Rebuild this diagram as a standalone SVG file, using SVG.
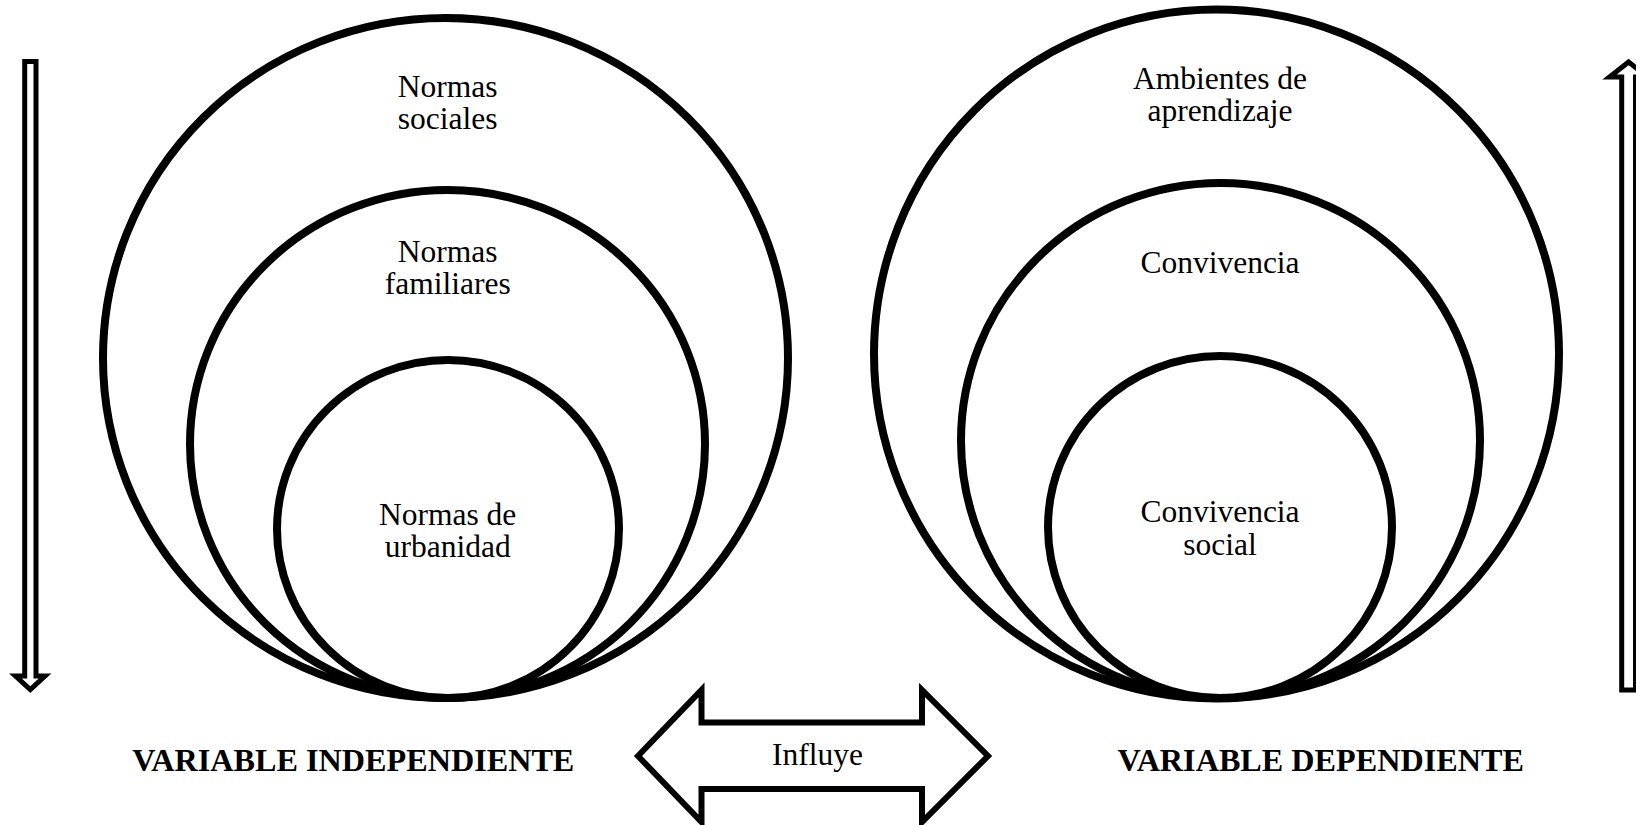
<svg xmlns="http://www.w3.org/2000/svg" width="1636" height="825" viewBox="0 0 1636 825">
<style>
.c{fill:#fff;stroke:#000;stroke-width:8}
.a{fill:#fff;stroke:#000;stroke-width:5;stroke-linejoin:miter}
.t{font-family:"Liberation Serif","Times New Roman",serif;font-size:31.5px;fill:#000;text-anchor:middle}
.b{font-family:"Liberation Serif","Times New Roman",serif;font-size:32.2px;font-weight:bold;fill:#000;text-anchor:middle}
</style>
<rect width="1636" height="825" fill="#fff"/>
<g id="connectors">
<polygon id="arrow-down" class="a" points="24.7,61.5 36,61.5 36,676 45,676 30.3,689.5 15.5,676 24.7,676"/>
<polygon id="arrow-up" class="a" points="1621.7,690 1635.5,690 1635.5,77 1647.5,77 1628.6,62 1609.5,77 1621.7,77"/>
<polygon id="arrow-influye" class="a" style="stroke-width:6" points="638,756 701.5,690 701.5,722.5 922,722.5 922,690 988,756 922,822 922,789 701.5,789 701.5,822"/>
</g>
<g id="influye-label"><text class="t" x="817.5" y="765">Influye</text></g>
<g id="normas-sociales">
<ellipse class="c" cx="445.5" cy="358" rx="342.5" ry="340"/>
<text class="t" x="447.7" y="96.5">Normas</text>
<text class="t" x="447.7" y="128.5">sociales</text>
</g>
<g id="normas-familiares">
<ellipse class="c" cx="447.5" cy="444" rx="257.5" ry="254"/>
<text class="t" x="447.7" y="261.7">Normas</text>
<text class="t" x="447.7" y="293.8">familiares</text>
</g>
<g id="normas-urbanidad">
<ellipse class="c" cx="448" cy="529" rx="171" ry="169"/>
<text class="t" x="447.7" y="524.8">Normas de</text>
<text class="t" x="447.7" y="557">urbanidad</text>
</g>
<g id="ambientes">
<ellipse class="c" cx="1216.5" cy="354" rx="342.5" ry="344.5"/>
<text class="t" x="1220" y="88.6">Ambientes de</text>
<text class="t" x="1220" y="120.8">aprendizaje</text>
</g>
<g id="convivencia">
<ellipse class="c" cx="1220.5" cy="440.5" rx="259.5" ry="257.5"/>
<text class="t" x="1220" y="273">Convivencia</text>
</g>
<g id="convivencia-social">
<ellipse class="c" cx="1220" cy="527" rx="172" ry="171"/>
<text class="t" x="1220" y="522">Convivencia</text>
<text class="t" x="1220" y="554.6">social</text>
</g>
<g id="label-independiente"><text class="b" x="353.3" y="770.7">VARIABLE INDEPENDIENTE</text></g>
<g id="label-dependiente"><text class="b" x="1320.7" y="770.7">VARIABLE DEPENDIENTE</text></g>
</svg>
